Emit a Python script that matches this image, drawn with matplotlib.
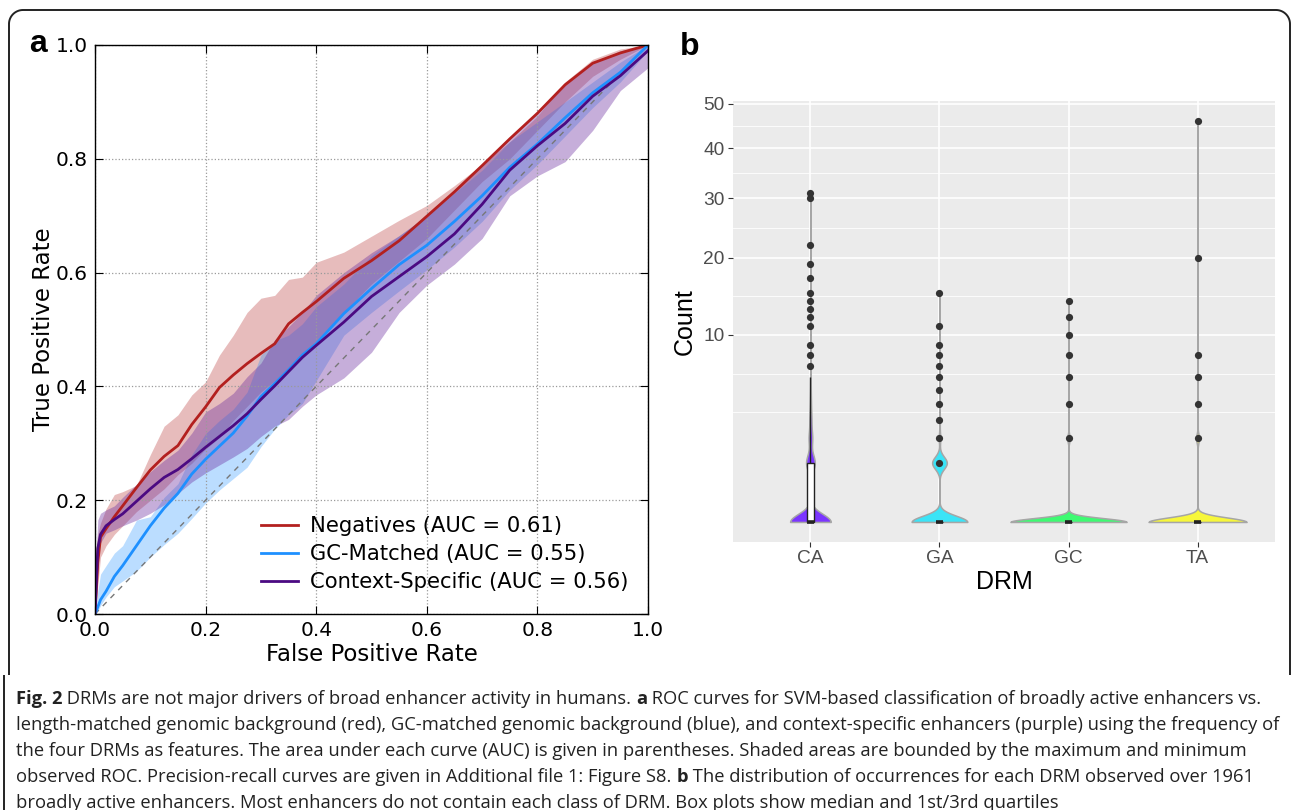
import numpy as np
import matplotlib
matplotlib.use('Agg')
import matplotlib.pyplot as plt
from matplotlib.path import Path
from matplotlib.patches import PathPatch
from matplotlib.transforms import IdentityTransform

# ---- panel a: ROC curves (mean, max, min) ----
fpr = [0, .005, .01, .02, .035, .05, .075, .1, .125, .15, .175, .2, .225, .25, .275, .3,
       .325, .35, .375, .4, .45, .5, .55, .6, .65, .7, .75, .8, .85, .9, .95, 1.0]

neg_tpr = [0, .09, .135, .15, .171, .19, .222, .253, .277, .296, .333, .364, .398, .42, .44, .458,
           .475, .51, .53, .549, .59, .621, .656, .699, .742, .788, .835, .88, .93, .968, .986, 1.0]
neg_hi = [.10, .14, .16, .185, .21, .215, .226, .28, .33, .35, .385, .408, .455, .49, .53, .555,
          .56, .588, .592, .618, .636, .664, .692, .718, .753, .79, .83, .875, .935, .975, .993, 1.0]
neg_lo = [0, .05, .10, .12, .14, .155, .18, .20, .22, .245, .265, .29, .31, .34, .365, .39,
          .41, .43, .455, .48, .53, .58, .62, .66, .71, .76, .80, .85, .90, .945, .975, 1.0]

gc_tpr = [0, .012, .025, .04, .066, .085, .12, .155, .186, .212, .246, .272, .295, .318, .348, .382,
          .405, .429, .455, .475, .528, .572, .614, .648, .69, .735, .785, .826, .872, .916, .952, 1.0]
gc_hi = [0, .04, .07, .085, .107, .12, .165, .171, .205, .229, .28, .317, .34, .36, .39, .455,
         .48, .49, .51, .54, .58, .63, .665, .70, .74, .78, .83, .865, .90, .935, .97, 1.0]
gc_lo = [0, .005, .015, .03, .048, .058, .075, .10, .122, .142, .168, .195, .218, .238, .258, .294,
         .325, .35, .37, .41, .49, .53, .568, .605, .645, .69, .745, .79, .84, .89, .935, .99]

cs_tpr = [0, .115, .14, .155, .166, .176, .198, .22, .24, .254, .273, .293, .312, .331, .352, .377,
          .401, .426, .451, .472, .513, .558, .593, .628, .668, .72, .78, .823, .862, .91, .946, .99]
cs_hi = [.05, .165, .177, .183, .19, .205, .228, .25, .27, .288, .318, .355, .37, .388, .417, .441,
         .482, .505, .53, .56, .6, .635, .665, .70, .745, .79, .835, .88, .93, .968, .99, 1.0]
cs_lo = [0, .11, .125, .142, .148, .155, .165, .177, .192, .212, .232, .248, .262, .276, .291, .312,
         .33, .342, .365, .385, .415, .46, .53, .578, .615, .66, .735, .77, .795, .85, .92, .96]

roc_labels = ['Negatives (AUC = 0.61)', 'GC-Matched (AUC = 0.55)', 'Context-Specific (AUC = 0.56)']

# ---- panel b: DRM occurrence counts per enhancer (value -> number of enhancers) ----
drms = ['CA', 'GA', 'GC', 'TA']
ca_vals = [0, 1, 2, 3, 4, 5, 6, 7, 8, 9, 11, 12, 13, 14, 15, 17, 19, 22, 30, 31]
ca_freq = [1408, 300, 120, 60, 30, 15, 10, 3, 2, 2, 2, 1, 1, 1, 1, 1, 1, 1, 1, 1]
ga_vals = [0, 1, 2, 3, 4, 5, 6, 7, 8, 9, 11, 15]
ga_freq = [1482, 390, 40, 20, 10, 6, 4, 3, 2, 2, 1, 1]
gc_vals = [0, 2, 4, 6, 8, 10, 12, 14]
gc_freq = [1900, 40, 10, 4, 3, 2, 1, 1]
ta_vals = [0, 2, 4, 6, 8, 20, 46]
ta_freq = [1880, 55, 15, 6, 3, 1, 1]

# box stats: q1, median, q3, upper whisker
box_q1 = [0, 0, 0, 0]
box_med = [0, 0, 0, 0]
box_q3 = [1, 0, 0, 0]
box_whi = [6, 0, 0, 0]

violin_colors = ['#7b35ff', '#3be4f7', '#3efa72', '#f7f73a']

W, H = 1293, 810
fig = plt.figure(figsize=(W / 100, H / 100), dpi=100)


def frac(x0, y0, x1, y1):
    return [x0 / W, 1 - y1 / H, (x1 - x0) / W, (y1 - y0) / H]


# ================= panel a =================
axa = fig.add_axes(frac(95, 45, 648, 614))
bands = [(neg_lo, neg_hi, '#b22222', 0.30),
         (gc_lo, gc_hi, '#1e90ff', 0.30),
         (cs_lo, cs_hi, '#6a2c9e', 0.38)]
for lo, hi, c, a in bands:
    axa.fill_between(fpr, lo, hi, color=c, alpha=a, lw=0)
axa.plot([0, 1], [0, 1], ls='--', color='#777777', lw=1.0, dashes=(4, 4))
l1, = axa.plot(fpr, neg_tpr, color='#b3201f', lw=2.0)
l2, = axa.plot(fpr, gc_tpr, color='#1e90ff', lw=2.0)
l3, = axa.plot(fpr, cs_tpr, color='#4b0a82', lw=2.0)
axa.set_xlim(0, 1)
axa.set_ylim(0, 1)
ticks = [0, .2, .4, .6, .8, 1.0]
axa.set_xticks(ticks)
axa.set_yticks(ticks)
axa.set_xticklabels(['%.1f' % t for t in ticks])
axa.set_yticklabels(['%.1f' % t for t in ticks])
axa.tick_params(direction='in', top=True, right=True, length=6, width=0.8,
                labelsize=14.5, pad=5)
axa.grid(True, ls=':', color='#9a9a9a', lw=0.9)
for sp in axa.spines.values():
    sp.set_linewidth(1.0)
axa.set_xlabel('False Positive Rate', fontsize=16.5, labelpad=2)
axa.set_ylabel('True Positive Rate', fontsize=16.5, labelpad=1)
axa.legend([l1, l2, l3], roc_labels, loc='lower right', frameon=False, fontsize=15.2,
           handlelength=1.75, handletextpad=0.6, labelspacing=0.38,
           bbox_to_anchor=(1.0, 0.005), borderaxespad=0.5)

# ================= panel b =================
sfont = 'Liberation Sans'
axb = fig.add_axes(frac(733, 101, 1275, 542))
axb.set_facecolor('#ebebeb')


def fwd(v):
    v = np.asarray(v, float)
    return np.sign(v) * np.sqrt(np.abs(v))


def inv(v):
    v = np.asarray(v, float)
    return np.sign(v) * v ** 2


axb.set_yscale('function', functions=(fwd, inv))
axb.set_ylim(-0.339 ** 2, 7.12 ** 2)
axb.set_xlim(0.4, 4.6)

major = np.array([10, 20, 30, 40, 50])
s = np.sqrt(major)
step = s[1] - s[0]
minor_s = np.concatenate([[s[0] - step, s[0] - step / 2], (s[:-1] + s[1:]) / 2])
for m in minor_s:
    axb.axhline(m ** 2, color='white', lw=0.6, zorder=0.5)
for m in major:
    axb.axhline(m, color='white', lw=1.2, zorder=0.6)
pos = np.arange(1, 5)
for p in pos:
    axb.axvline(p, color='white', lw=1.2, zorder=0.6)


def density(vals, freq):
    v = np.sqrt(np.asarray(vals, float))
    w = np.asarray(freq, float)
    n = w.sum()
    data = np.repeat(v, freq)
    sd = data.std(ddof=1)
    q1, q3 = np.percentile(data, [25, 75])
    spread = min(sd, (q3 - q1) / 1.34) if q3 > q1 else sd
    bw = 0.9 * spread * n ** -0.2
    grid = np.linspace(0, v.max(), 512)
    d = (w[:, None] * np.exp(-0.5 * ((grid[None, :] - v[:, None]) / bw) ** 2)).sum(0)
    d /= n * bw * np.sqrt(2 * np.pi)
    return grid ** 2, d


dens = [density(v, f) for v, f in [(ca_vals, ca_freq), (ga_vals, ga_freq),
                                   (gc_vals, gc_freq), (ta_vals, ta_freq)]]
dmax = max(d.max() for _, d in dens)
for p, (yy, d), c in zip(pos, dens, violin_colors):
    hw = d / dmax * 0.45
    axb.fill_betweenx(yy, p - hw, p + hw, facecolor=c, edgecolor='#a6a6a6', lw=1.1, zorder=2)

bw_box = 0.055
all_vals = [ca_vals, ga_vals, gc_vals, ta_vals]
for i, p in enumerate(pos):
    axb.vlines(p, box_q3[i], box_whi[i], color='#222222', lw=1.0, zorder=3)
    axb.bar(p, box_q3[i] - box_q1[i], bottom=box_q1[i], width=bw_box, color='white',
            edgecolor='#222222', lw=1.0, zorder=3)
    axb.hlines(box_med[i], p - bw_box / 2, p + bw_box / 2, color='#222222', lw=2.6, zorder=4)
    outl = [v for v in all_vals[i] if v > box_whi[i]]
    axb.plot([p] * len(outl), outl, 'o', color='#333333', ms=5.2, mec='none', zorder=5)

axb.set_yticks(major)
axb.set_yticklabels([str(m) for m in major])
axb.yaxis.set_minor_locator(matplotlib.ticker.NullLocator())
axb.set_xticks(pos)
axb.set_xticklabels(drms)
axb.tick_params(length=3.5, width=0.8, color='#333333', labelcolor='#4d4d4d',
                labelsize=13.8, pad=2.5)
for lab in axb.get_xticklabels() + axb.get_yticklabels():
    lab.set_fontfamily(sfont)
for sp in axb.spines.values():
    sp.set_visible(False)
axb.set_xlabel('DRM', fontsize=18, family=sfont, labelpad=2)
axb.set_ylabel('Count', fontsize=18, family=sfont, labelpad=5)

# ================= panel letters =================
fig.text(38 / W, 1 - 52 / H, 'a', fontsize=23, fontweight='bold', family=sfont,
         ha='center', va='baseline')
fig.text(680 / W, 1 - 55 / H, 'b', fontsize=23, fontweight='bold', family=sfont,
         ha='left', va='baseline')

# ================= border =================
r = 14
xl, xr, yt, yb = 9, 1290, H - 10, H - 675
th = np.linspace(np.pi, np.pi / 2, 20)
left_arc = np.c_[xl + r + r * np.cos(th), yt - r + r * np.sin(th)]
th2 = np.linspace(np.pi / 2, 0, 20)
right_arc = np.c_[xr - r + r * np.cos(th2), yt - r + r * np.sin(th2)]
pts = np.vstack([[xl, yb], left_arc, right_arc, [xr, yb]])
fig.patches.append(PathPatch(Path(pts), fill=False, lw=1.4, ec='#222222',
                             transform=IdentityTransform()))
fig.patches.append(PathPatch(Path([[4, H - 675], [4, -5]]), fill=False, lw=1.4,
                             ec='#222222', transform=IdentityTransform()))

# ================= caption =================
cfont = 'Open Sans'
csize = 13.2
caption = [
    [('Fig. 2', True), (' DRMs are not major drivers of broad enhancer activity in humans. ', False),
     ('a', True), (' ROC curves for SVM-based classification of broadly active enhancers vs.', False)],
    [('length-matched genomic background (red), GC-matched genomic background (blue), and '
      'context-specific enhancers (purple) using the frequency of', False)],
    [('the four DRMs as features. The area under each curve (AUC) is given in parentheses. '
      'Shaded areas are bounded by the maximum and minimum', False)],
    [('observed ROC. Precision-recall curves are given in Additional file 1: Figure S8. ', False),
     ('b', True), (' The distribution of occurrences for each DRM observed over 1961', False)],
    [('broadly active enhancers. Most enhancers do not contain each class of DRM. '
      'Box plots show median and 1st/3rd quartiles', False)],
]
for k, line in enumerate(caption):
    ytop = 1 - (688 + 26 * k) / H
    prev = None
    for txt, bold in line:
        kw = dict(fontsize=csize, family=cfont, fontweight='bold' if bold else 'normal',
                  color='#222222', va='bottom', ha='left')
        if prev is None:
            prev = fig.text(16 / W, ytop - 20 / H, txt, **kw)
        else:
            prev = fig.add_artist(matplotlib.text.Annotation(
                txt, xy=(1, 0), xycoords=prev, annotation_clip=False, **kw))

fig.savefig('out.png', dpi=100)
